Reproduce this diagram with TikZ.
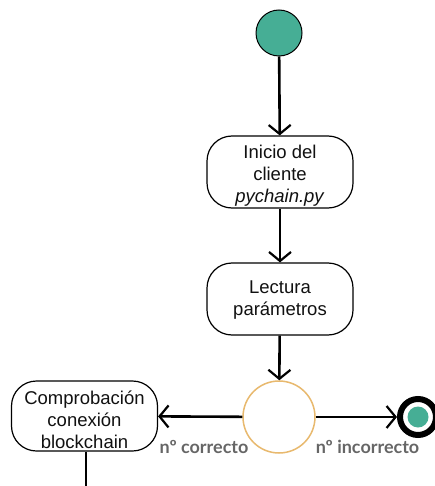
\documentclass[tikz,border=0pt]{standalone}
\usepackage{fontspec}
\setmainfont{Liberation Sans}
\newfontfamily\labelfont{Lato}
\usetikzlibrary{arrows.meta}
\definecolor{teal1}{HTML}{46AE95}
\definecolor{ochre}{HTML}{E8B96E}
\definecolor{labelgray}{HTML}{666666}
\definecolor{ink}{HTML}{111111}
\tikzset{
  activity/.style={draw=black, line width=1.2pt, rounded corners=25pt, fill=white,
    minimum width=146pt, minimum height=72pt, inner sep=0pt},
  activitytext/.style={align=center, text=ink, inner sep=0pt,
    font=\fontsize{18.5}{22}\selectfont},
  flow/.style={line width=2.6pt, -{Straight Barb[length=9pt,width=22pt,line width=2.2pt]}},
  plainflow/.style={line width=2.6pt},
  guard/.style={text=labelgray, font=\labelfont\bfseries\fontsize{18}{20}\selectfont, inner sep=0pt},
}
\begin{document}
\begin{tikzpicture}[x=1pt,y=-1pt]
\useasboundingbox (0,0) rectangle (434,486);

% initial node
\node (start) [circle, draw=black, line width=1pt, fill=teal1, minimum size=46pt, inner sep=0pt] at (279,33) {};

% actions
\node (init) [activity] at (280,172) {};
\node (initlbl) [activitytext] at ([yshift=-3.5pt]init.center) {Inicio del\\cliente\\\textit{pychain.py}};
\node (read) [activity] at (280,299) {};
\node (readlbl) [activitytext] at ([yshift=-1.5pt]read.center) {Lectura\\parámetros};
\node (check) [activity, minimum height=70pt] at (84.5,416) {};
\node (checklbl) [activitytext] at ([yshift=-4pt]check.center) {Comprobación\\conexión\\blockchain};

% decision
\node (dec) [circle, draw=ochre, line width=1.5pt, fill=white, minimum size=72pt, inner sep=0pt] at (279,417) {};

% final node
\node (end) [circle, draw=black, line width=6pt, fill=white, minimum size=36pt, inner sep=0pt] at (418,417) {};
\node (endcore) [circle, fill=teal1, minimum size=21pt, inner sep=0pt] at (end.center) {};

% continuation below
\coordinate (down) at (86,486);

% flows
\draw[flow] (start) -- (init);
\draw[flow] (init) -- (read);
\draw[flow] (read) -- (dec);
\draw[flow] (dec) -- (check);
\draw[flow] (dec) -- (end);
\draw[plainflow] (check.south -| down) -- (down);

% guards
\node (ok) [guard] at (204,447) {nº correcto};
\node (ko) [guard] at (367.5,447) {nº incorrecto};
\end{tikzpicture}
\end{document}
